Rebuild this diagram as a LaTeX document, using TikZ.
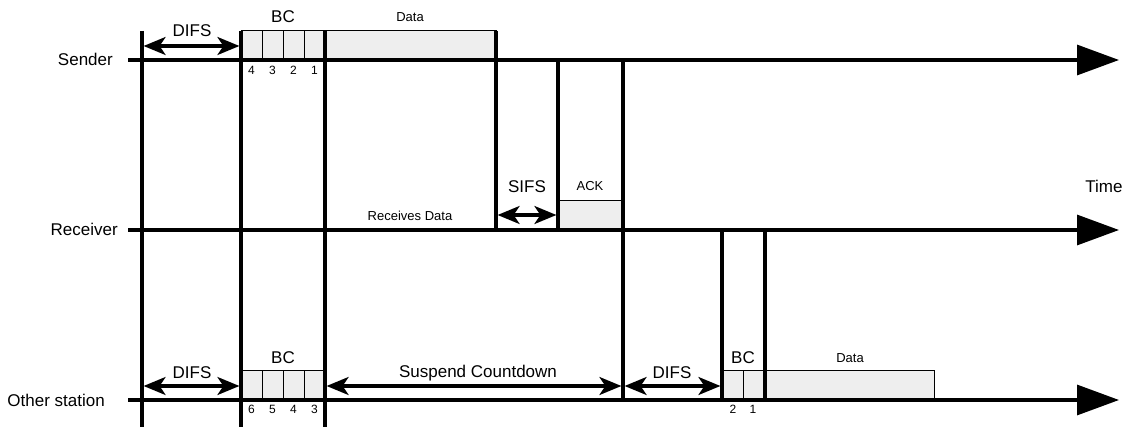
\documentclass[tikz,border=0pt]{standalone}
\usepackage{fontspec}
\setmainfont{Liberation Sans}
\usetikzlibrary{arrows.meta,positioning}
\definecolor{slot}{HTML}{EEEEEE}
\definecolor{ink}{HTML}{000000}
\tikzset{
  timeline/.style={line width=3.2pt,draw=ink,-{Triangle[length=42pt,width=30pt]}},
  bar/.style={line width=3.2pt,draw=ink},
  gap/.style={line width=3.2pt,draw=ink,
    {Stealth[length=22pt,width=18pt,inset=6pt]}-{Stealth[length=22pt,width=18pt,inset=6pt]},
    shorten <=1.6pt,shorten >=1.6pt},
  slotbox/.style={draw=ink,line width=0.9pt,fill=slot,inner sep=0pt,anchor=south west},
  cell/.style={draw=ink,line width=0.9pt},
  lane/.style={anchor=base east,inner sep=0pt,font=\fontsize{17}{19}\selectfont},
  tag/.style={anchor=base,inner sep=0pt,font=\fontsize{17}{19}\selectfont},
  small/.style={anchor=base,inner sep=0pt,font=\fontsize{13}{15}\selectfont},
  num/.style={anchor=base,inner sep=0pt,font=\fontsize{12}{13}\selectfont}
}

\begin{document}
\begin{tikzpicture}[x=1pt,y=-1pt]
  \useasboundingbox (0,0) rectangle (1129,427);

  % slots
  \node[slotbox,minimum width=84pt,minimum height=29pt] (sbc) at (241,60) {};
  \node[slotbox,minimum width=171pt,minimum height=29pt] (sdata) at (325,60) {};
  \node[slotbox,minimum width=65pt,minimum height=29pt] (ack) at (558,230) {};
  \node[slotbox,minimum width=84pt,minimum height=29pt] (obc) at (241,400) {};
  \node[slotbox,minimum width=43pt,minimum height=29pt] (obc2) at (722,400) {};
  \node[slotbox,minimum width=169pt,minimum height=29pt] (odata) at (765,400) {};
  \foreach \x in {262,283,304} {
    \draw[cell] (\x,31) -- (\x,60);
    \draw[cell] (\x,371) -- (\x,400);
  }
  \draw[cell] (743,371) -- (743,400);

  % time axes
  \coordinate (s0) at (128,60);  \coordinate (s1) at (1119,60);
  \coordinate (r0) at (128,230); \coordinate (r1) at (1119,230);
  \coordinate (o0) at (128,400); \coordinate (o1) at (1119,400);
  \draw[timeline] (s0) -- (s1);
  \draw[timeline] (r0) -- (r1);
  \draw[timeline] (o0) -- (o1);

  % slot boundaries
  \foreach \n/\x/\a/\b in {1/142/31/427,2/241/31/427,3/325/31/427,4/496/31/230,
                           5/558/60/230,6/623/60/400,7/722/230/400,8/765/230/400} {
    \coordinate (t\n a) at (\x,\a);
    \coordinate (t\n b) at (\x,\b);
    \draw[bar] (t\n a) -- (t\n b);
  }

  % intervals
  \coordinate (sdifs) at (0,46);
  \coordinate (sifs) at (0,215);
  \coordinate (odifs) at (0,386);
  \draw[gap] (t1a |- sdifs) -- (t2a |- sdifs);
  \draw[gap] (t4a |- sifs) -- (t5a |- sifs);
  \draw[gap] (t1a |- odifs) -- (t2a |- odifs);
  \draw[gap] (t3a |- odifs) -- (t6a |- odifs);
  \draw[gap] (t6a |- odifs) -- (t7a |- odifs);

  % labels
  \node[lane] (sender) at (113,66) {Sender};
  \node[lane] (receiver) at (118,236) {Receiver};
  \node[lane] (other) at (105,406) {Other station};
  \node[tag] (sdifsl) at (192,37) {DIFS};
  \node[tag] (sbcl) at (283,23) {BC};
  \node[small] (sdatal) at (410,22) {Data};
  \node[tag] (sifsl) at (527,193) {SIFS};
  \node[small] (ackl) at (590,191) {ACK};
  \node[small] (recv) at (410,221) {Receives Data};
  \node[tag] (time) at (1104,193) {Time};
  \node[tag] (odifsl) at (192,378) {DIFS};
  \node[tag] (obcl) at (283,363) {BC};
  \node[tag] (susp) at (478,377) {Suspend Countdown};
  \node[tag] (odifs2l) at (672,378) {DIFS};
  \node[tag] (obc2l) at (743,363) {BC};
  \node[small] (odatal) at (850,362) {Data};
  \foreach \n/\x in {4/251.5,3/272.5,2/293.5,1/314.5}
    \node[num] (sn\n) at (\x,75) {\n};
  \foreach \n/\x in {6/251.5,5/272.5,4/293.5,3/314.5}
    \node[num] (on\n) at (\x,413) {\n};
  \node[num] (oc2) at (733,413) {2};
  \node[num] (oc1) at (753,413) {1};
\end{tikzpicture}
\end{document}
